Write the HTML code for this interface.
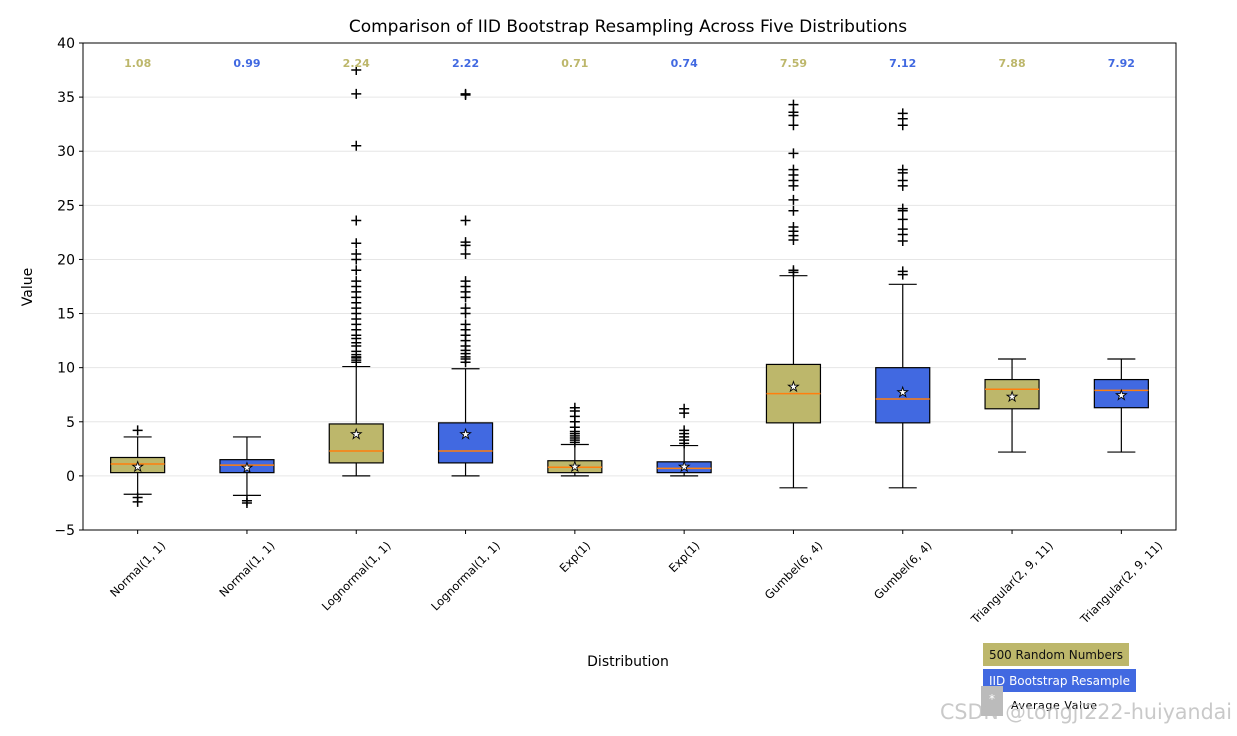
<!DOCTYPE html>
<html><head><meta charset="utf-8"><style>
body{margin:0;background:#fff;}
svg{font-family:"DejaVu Sans","Liberation Sans",sans-serif;}
</style></head><body>
<svg id="chart" width="1237" height="731" viewBox="0 0 1237 731">
<text x="628" y="32" text-anchor="middle" font-size="17">Comparison of IID Bootstrap Resampling Across Five Distributions</text>
<g id="grid"></g>
<g id="marks"></g>
<rect x="83" y="43" width="1093" height="487" fill="none" stroke="#000" stroke-width="1"/>
<g id="axes"></g>
<text x="628" y="666" text-anchor="middle" font-size="14">Distribution</text>
<text transform="translate(32,287) rotate(-90)" text-anchor="middle" font-size="14">Value</text>
<g>
<rect x="983" y="643" width="146" height="23" fill="#bdb76b"/>
<text x="989" y="659" font-size="12" fill="#111" textLength="134">500 Random Numbers</text>
<rect x="983" y="669" width="153" height="23" fill="#4169e1"/>
<text x="989" y="685" font-size="12" fill="#fff" textLength="141">IID Bootstrap Resample</text>
<rect x="981" y="686" width="22" height="30" fill="#bbb"/>
<text x="992" y="703" font-size="12" fill="#fff" text-anchor="middle">*</text>
<text x="1011" y="709" font-size="11" fill="#000" textLength="86">Average Value</text>
</g>
<text x="940" y="719" font-size="21" fill="#bbb" fill-opacity="0.8" textLength="292" lengthAdjust="spacingAndGlyphs">CSDN @tongji222-huiyandai</text>
</svg>
<script>
const categories=["Normal(1, 1)","Normal(1, 1)","Lognormal(1, 1)","Lognormal(1, 1)","Exp(1)","Exp(1)","Gumbel(6, 4)","Gumbel(6, 4)","Triangular(2, 9, 11)","Triangular(2, 9, 11)"];
const q1=[0.3,0.3,1.2,1.2,0.3,0.3,4.9,4.9,6.2,6.3];
const q3=[1.7,1.5,4.8,4.9,1.4,1.3,10.3,10.0,8.9,8.9];
const medians=[1.1,1.0,2.3,2.3,0.8,0.7,7.6,7.1,8.0,7.9];
const means=[0.9,0.8,3.9,3.9,0.9,0.9,8.3,7.8,7.4,7.5];
const whiskLo=[-1.7,-1.8,0,0,0,0,-1.1,-1.1,2.2,2.2];
const whiskHi=[3.6,3.6,10.1,9.9,2.9,2.8,18.5,17.7,10.8,10.8];
const fliers=[
[4.2,-2.0,-2.4],
[-2.3,-2.5],
[10.5,10.7,10.9,11,11.2,11.5,12,12.3,12.7,13,13.5,14,14.5,15,15.5,16,16.5,17,17.5,18,19,20,20.5,21.5,23.6,30.5,35.3,37.5],
[10.5,10.8,11,11.3,11.6,12,12.5,13,13.5,14,15,15.5,16.5,17,17.5,18,20.5,21.3,21.6,23.6,35.2,35.3],
[3.1,3.3,3.5,3.7,3.9,4.1,4.5,5,5.5,6,6.3],
[3,3.3,3.6,3.9,4.2,5.8,6.2],
[18.8,19,21.8,22.2,22.6,23,24.5,25.5,26.8,27.3,27.8,28.3,29.8,32.4,33.3,33.6,34.3],
[18.6,18.9,21.7,22.3,22.8,23.7,24.5,24.7,26.8,27.3,28,28.3,32.4,33,33.5],
[],[]];
const topLabels=["1.08","0.99","2.24","2.22","0.71","0.74","7.59","7.12","7.88","7.92"];
const yTicks=[-5,0,5,10,15,20,25,30,35,40];
const NS="http://www.w3.org/2000/svg";
const X0=83,X1=1176,Y0=530,Y1=43,VMIN=-5,VMAX=40;
const colors=["#bdb76b","#4169e1"];
function ys(v){return Y0-(v-VMIN)/(VMAX-VMIN)*(Y0-Y1);}
function xs(i){return X0+(X1-X0)*(i+0.5)/categories.length;}
function mk(tag,attrs,parent){const e=document.createElementNS(NS,tag);for(const k in attrs)e.setAttribute(k,attrs[k]);parent.appendChild(e);return e;}
const grid=document.getElementById('grid'),marks=document.getElementById('marks'),axes=document.getElementById('axes');
yTicks.forEach(v=>{
  if(v>VMIN&&v<VMAX){const g=mk('line',{x1:X0,x2:X1,y1:ys(v),y2:ys(v),stroke:'#e6e6e6','stroke-width':1},grid);
  
  }
  const t=mk('line',{x1:X0-4,x2:X0,y1:ys(v),y2:ys(v),stroke:'#000'},axes);
  
  
  const l=mk('text',{x:X0-8,y:ys(v)+5,'text-anchor':'end','font-size':14},axes);
  l.textContent=v<0?'\u2212'+Math.abs(v):v;
  
  
});
const bw=54;
categories.forEach((c,i)=>{
  const x=xs(i),col=colors[i%2];
  const g=mk('g',{},marks);
  
  
  mk('line',{x1:x,x2:x,y1:ys(whiskLo[i]),y2:ys(q1[i]),stroke:'#000','stroke-width':1.2},g);
  mk('line',{x1:x,x2:x,y1:ys(whiskHi[i]),y2:ys(q3[i]),stroke:'#000','stroke-width':1.2},g);
  mk('line',{x1:x-14,x2:x+14,y1:ys(whiskLo[i]),y2:ys(whiskLo[i]),stroke:'#000','stroke-width':1.2},g);
  mk('line',{x1:x-14,x2:x+14,y1:ys(whiskHi[i]),y2:ys(whiskHi[i]),stroke:'#000','stroke-width':1.2},g);
  mk('rect',{x:x-bw/2,y:ys(q3[i]),width:bw,height:ys(q1[i])-ys(q3[i]),fill:col,stroke:'#000','stroke-width':1.2},g);
  mk('line',{x1:x-bw/2,x2:x+bw/2,y1:ys(medians[i]),y2:ys(medians[i]),stroke:'#ff7f0e','stroke-width':1.5},g);
  fliers[i].forEach(f=>{
    const p=mk('path',{d:`M${x-5},${ys(f)}h10M${x},${ys(f)-5}v10`,stroke:'#000','stroke-width':1.5},g);
    
    
  });
  const s=mk('text',{x:x,y:ys(means[i])+5,'text-anchor':'middle','font-size':13,fill:'#fff',stroke:'#000','stroke-width':0.9},g);
  s.textContent='\u2605';
  
  
  const tl=mk('text',{x:x,y:67,'text-anchor':'middle','font-size':11,'font-weight':'bold',fill:col},marks);
  tl.textContent=topLabels[i];
  
  
  const tk=mk('line',{x1:x,x2:x,y1:Y0,y2:Y0+4,stroke:'#000'},axes);
  
  
  const xl=mk('text',{x:0,y:0,'text-anchor':'middle','font-size':11.5},axes);
  xl.textContent=c;
  
  
  const L=xl.getComputedTextLength();
  const cy=Y0+10+(L+10)*0.7071/2;
  xl.setAttribute('transform',`translate(${x},${cy}) rotate(-45) translate(0,4)`);
});
</script>
</body></html>
